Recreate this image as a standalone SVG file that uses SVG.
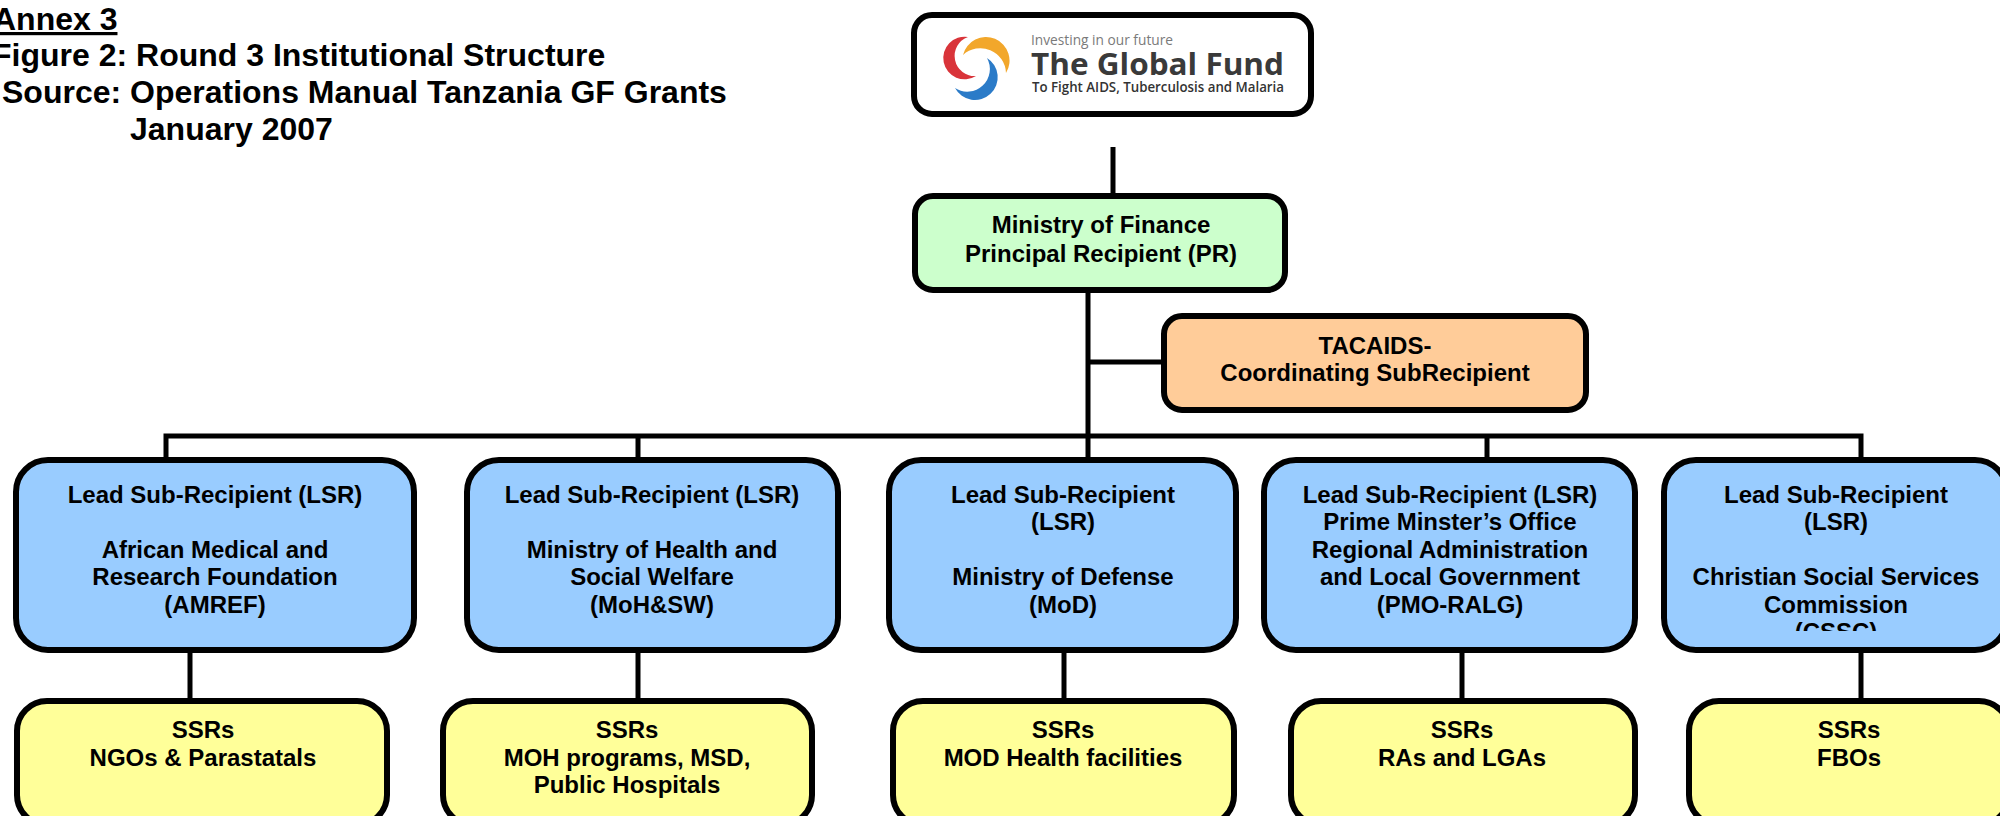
<svg xmlns="http://www.w3.org/2000/svg" width="2000" height="816" viewBox="0 0 2000 816">
<style>
  .t { font-family: "Liberation Sans", Arial, sans-serif; font-weight: bold; fill: #000; }
  .title { font-size: 32px; }
  .lbl { font-size: 24px; text-anchor: middle; }
  .box { stroke: #000; stroke-width: 6; }
  .lsr { fill: #99CCFF; }
  .ssr { fill: #FFFF99; }
  .conn { stroke: #000; stroke-width: 5; fill: none; }
  .logo { font-family: "Open Sans", "DejaVu Sans", sans-serif; }
</style>
<defs>
  <clipPath id="clip5"><rect x="1660" y="455" width="360" height="176"/></clipPath>
</defs>
<rect x="0" y="0" width="2000" height="816" fill="#fff"/>

<g id="title">
  <text class="t title" x="-7" y="30" text-decoration="underline">Annex 3</text>
  <text class="t title" x="-8" y="66">Figure 2: Round 3 Institutional Structure</text>
  <text class="t title" x="2" y="103">Source: Operations Manual Tanzania GF Grants</text>
  <text class="t title" x="130" y="140">January 2007</text>
</g>

<g id="connectors">
  <line class="conn" x1="1113" y1="147" x2="1113" y2="193"/>
  <line class="conn" x1="1088" y1="293" x2="1088" y2="457"/>
  <line class="conn" x1="1088" y1="362" x2="1161" y2="362"/>
  <path class="conn" stroke-width="6" d="M166 457 V436 H1861 V457"/>
  <line class="conn" x1="638" y1="436" x2="638" y2="457"/>
  <line class="conn" x1="1487" y1="436" x2="1487" y2="457"/>
  <line class="conn" x1="190" y1="653" x2="190" y2="698"/>
  <line class="conn" x1="638" y1="653" x2="638" y2="698"/>
  <line class="conn" x1="1064" y1="653" x2="1064" y2="698"/>
  <line class="conn" x1="1462" y1="653" x2="1462" y2="698"/>
  <line class="conn" x1="1861" y1="653" x2="1861" y2="698"/>
</g>

<g id="globalfund">
  <rect class="box" x="914" y="15" width="397" height="99" rx="18" fill="#fff"/>
  <path d="M968 37 A21.3 21.3 0 1 0 976 76 A20.1 20.1 0 0 1 968 37 Z" fill="#D9343A"/>
  <path d="M963 55 A23.6 23.6 0 1 1 1006 73 A25.6 25.6 0 0 0 963 55 Z" fill="#F2A72B"/>
  <path d="M987 58 A22.7 22.7 0 1 1 955 88 A22.6 22.6 0 0 0 987 58 Z" fill="#2B7BC8"/>
  <text class="logo" x="1031" y="45" font-size="15" fill="#7a7a7a" textLength="142" lengthAdjust="spacingAndGlyphs">Investing in our future</text>
  <text class="logo" x="1031" y="75" font-size="30" font-weight="bold" fill="#3a3a3a" textLength="253" lengthAdjust="spacingAndGlyphs">The Global Fund</text>
  <text class="logo" x="1032" y="92" font-size="13.5" font-weight="600" fill="#333" textLength="252" lengthAdjust="spacingAndGlyphs">To Fight AIDS, Tuberculosis and Malaria</text>
</g>

<g id="pr">
  <rect class="box" x="915" y="196" width="370" height="94" rx="18" fill="#CCFFCC"/>
  <text class="t lbl" x="1101" y="233">Ministry of Finance</text>
  <text class="t lbl" x="1101" y="262">Principal Recipient (PR)</text>
</g>

<g id="tacaids">
  <rect class="box" x="1164" y="316" width="422" height="94" rx="18" fill="#FFCC99"/>
  <text class="t lbl" x="1375" y="354">TACAIDS-</text>
  <text class="t lbl" x="1375" y="381">Coordinating SubRecipient</text>
</g>

<g id="lsr1">
  <rect class="box lsr" x="16" y="460" width="398" height="190" rx="32"/>
  <text class="t lbl" x="215" y="503">Lead Sub-Recipient (LSR)</text>
  <text class="t lbl" x="215" y="558">African Medical and</text>
  <text class="t lbl" x="215" y="585">Research Foundation</text>
  <text class="t lbl" x="215" y="613">(AMREF)</text>
</g>

<g id="lsr2">
  <rect class="box lsr" x="467" y="460" width="371" height="190" rx="32"/>
  <text class="t lbl" x="652" y="503">Lead Sub-Recipient (LSR)</text>
  <text class="t lbl" x="652" y="558">Ministry of Health and</text>
  <text class="t lbl" x="652" y="585">Social Welfare</text>
  <text class="t lbl" x="652" y="613">(MoH&amp;SW)</text>
</g>

<g id="lsr3">
  <rect class="box lsr" x="889" y="460" width="347" height="190" rx="32"/>
  <text class="t lbl" x="1063" y="503">Lead Sub-Recipient</text>
  <text class="t lbl" x="1063" y="530">(LSR)</text>
  <text class="t lbl" x="1063" y="585">Ministry of Defense</text>
  <text class="t lbl" x="1063" y="613">(MoD)</text>
</g>

<g id="lsr4">
  <rect class="box lsr" x="1264" y="460" width="371" height="190" rx="32"/>
  <text class="t lbl" x="1450" y="503">Lead Sub-Recipient (LSR)</text>
  <text class="t lbl" x="1450" y="530">Prime Minster’s Office</text>
  <text class="t lbl" x="1450" y="558">Regional Administration</text>
  <text class="t lbl" x="1450" y="585">and Local Government</text>
  <text class="t lbl" x="1450" y="613">(PMO-RALG)</text>
</g>

<g id="lsr5">
  <rect class="box lsr" x="1664" y="460" width="343" height="190" rx="32"/>
  <g clip-path="url(#clip5)">
    <text class="t lbl" x="1836" y="503">Lead Sub-Recipient</text>
    <text class="t lbl" x="1836" y="530">(LSR)</text>
    <text class="t lbl" x="1836" y="585">Christian Social Services</text>
    <text class="t lbl" x="1836" y="613">Commission</text>
    <text class="t lbl" x="1836" y="640">(CSSC)</text>
  </g>
</g>

<g id="ssr1">
  <rect class="box ssr" x="17" y="701" width="370" height="124" rx="30"/>
  <text class="t lbl" x="203" y="738">SSRs</text>
  <text class="t lbl" x="203" y="766">NGOs &amp; Parastatals</text>
</g>

<g id="ssr2">
  <rect class="box ssr" x="443" y="701" width="369" height="124" rx="30"/>
  <text class="t lbl" x="627" y="738">SSRs</text>
  <text class="t lbl" x="627" y="766">MOH programs, MSD,</text>
  <text class="t lbl" x="627" y="793">Public Hospitals</text>
</g>

<g id="ssr3">
  <rect class="box ssr" x="893" y="701" width="341" height="124" rx="30"/>
  <text class="t lbl" x="1063" y="738">SSRs</text>
  <text class="t lbl" x="1063" y="766">MOD Health facilities</text>
</g>

<g id="ssr4">
  <rect class="box ssr" x="1291" y="701" width="344" height="124" rx="30"/>
  <text class="t lbl" x="1462" y="738">SSRs</text>
  <text class="t lbl" x="1462" y="766">RAs and LGAs</text>
</g>

<g id="ssr5">
  <rect class="box ssr" x="1689" y="701" width="320" height="124" rx="30"/>
  <text class="t lbl" x="1849" y="738">SSRs</text>
  <text class="t lbl" x="1849" y="766">FBOs</text>
</g>
</svg>
